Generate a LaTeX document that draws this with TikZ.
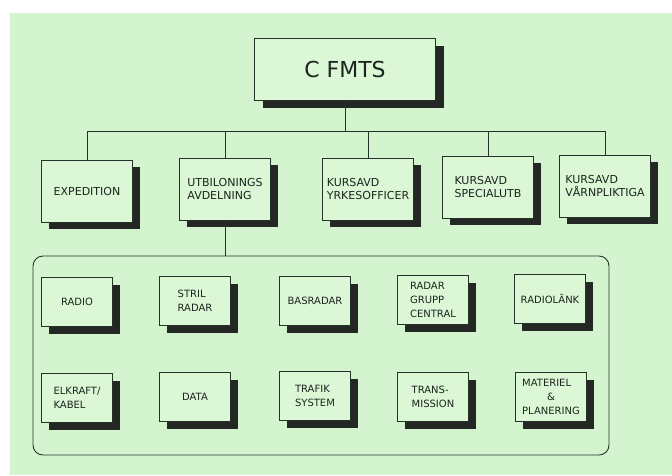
\documentclass[tikz,border=0pt]{standalone}
\usepackage{fontspec}
\setmainfont{DejaVu Sans}
\usepackage{calc}
\usepackage{tikz}
\usetikzlibrary{shadows}

\definecolor{bggreen}{RGB}{212,244,208}
\definecolor{boxgreen}{RGB}{219,247,214}
\definecolor{inkc}{RGB}{38,50,40}
\definecolor{textc}{RGB}{28,36,30}
\definecolor{shadowc}{RGB}{36,40,37}

\begin{document}
\begin{tikzpicture}[x=1pt, y=-1pt,
    unit/.style={draw=inkc, line width=0.9pt, fill=boxgreen, text=textc, align=left, inner sep=2pt},
    chief/.style={unit, general shadow={fill=shadowc, shadow xshift=8pt, shadow yshift=-8pt},
        minimum width=181pt, minimum height=62pt, font=\fontsize{22}{26}\selectfont},
    dept/.style={unit, general shadow={fill=shadowc, shadow xshift=7pt, shadow yshift=-7pt},
        minimum width=91pt, minimum height=62pt, font=\fontsize{11}{13}\selectfont},
    sect/.style={unit, general shadow={fill=shadowc, shadow xshift=7pt, shadow yshift=-7pt},
        minimum width=71pt, minimum height=49pt, font=\fontsize{10}{14}\selectfont},
    link/.style={draw=inkc, line width=0.9pt}]
    \useasboundingbox (0,0) rectangle (672,475);
    \fill[white] (0,0) rectangle (672,475);
    \fill[bggreen] (10,13) rectangle (672,475);

    \node[chief] (fmts) at (345,69) {C FMTS};

    \node[dept] (exped) at (87,191) {EXPEDITION};
    \node[dept] (utb) at (225,189) {UTBILONINGS\\AVDELNING};
    \node[dept] (yrkes) at (368,189) {KURSAVD\\YRKESOFFICER};
    \node[dept] (spec) at (488,187) {KURSAVD\\SPECIALUTB};
    \node[dept] (varn) at (605,186) {KURSAVD\\VÅRNPLIKTIGA};

    \coordinate (bus) at (345,131);
    \draw[link] (fmts.south) -- (bus);
    \draw[link] (bus) -| (exped.north);
    \draw[link] (bus) -| (utb.north);
    \draw[link] (bus) -| (yrkes.north);
    \draw[link] (bus) -| (spec.north);
    \draw[link] (bus) -| (varn.north);

    % utbildningsavdelningens sektioner
    \node[link, rounded corners=10pt, minimum width=576pt, minimum height=199pt] (grp) at (321,355.5) {};
    \draw[link] (utb.south) -- (utb.south |- grp.north);

    \node[sect] (radio) at (77,302) {RADIO};
    \node[sect] (stril) at (195,301) {STRIL\\RADAR};
    \node[sect] (basradar) at (315,301) {BASRADAR};
    \node[sect] (rgc) at (433,300) {RADAR\\GRUPP\\CENTRAL};
    \node[sect] (radiolank) at (550,299) {RADIOLÄNK};

    \node[sect] (elkraft) at (77,398) {ELKRAFT/\\KABEL};
    \node[sect] (data) at (195,397) {DATA};
    \node[sect] (trafik) at (315,396) {TRAFIK\\SYSTEM};
    \node[sect] (trans) at (433,397) {TRANS-\\MISSION};
    \node[sect] (materiel) at (551,397) {MATERIEL\\\makebox[\widthof{PLANERING}]{\&}\\PLANERING};
\end{tikzpicture}
\end{document}
